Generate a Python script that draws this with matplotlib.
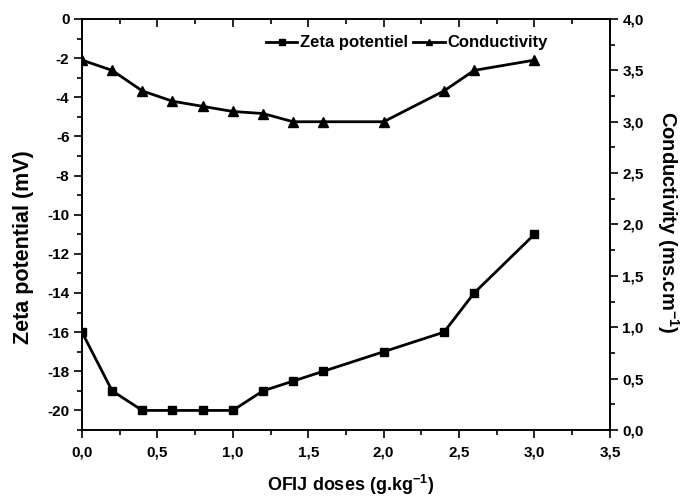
import matplotlib
matplotlib.use("Agg")
import matplotlib.pyplot as plt
from matplotlib.ticker import MultipleLocator, FuncFormatter

plt.rcParams['font.family'] = ['Liberation Sans', 'DejaVu Sans']
plt.rcParams['font.weight'] = 'bold'
plt.rcParams['mathtext.default'] = 'bf'
plt.rcParams['mathtext.fontset'] = 'custom'
plt.rcParams['mathtext.bf'] = 'Liberation Sans:bold'

doses = [0.0, 0.2, 0.4, 0.6, 0.8, 1.0, 1.2, 1.4, 1.6, 2.0, 2.4, 2.6, 3.0]
zeta = [-16, -19, -20, -20, -20, -20, -19, -18.5, -18, -17, -16, -14, -11]
conductivity = [3.6, 3.5, 3.3, 3.2, 3.15, 3.1, 3.08, 3.0, 3.0, 3.0, 3.3, 3.5, 3.6]

fig = plt.figure(figsize=(6.83, 5.0), dpi=100)
ax = fig.add_axes([0.120, 0.14, 0.773, 0.822])
ax2 = ax.twinx()

l1, = ax.plot(doses, zeta, color='black', lw=2, marker='s', markersize=5.5, label='Zeta potentiel')
l2, = ax2.plot(doses, conductivity, color='black', lw=2, marker='^', markersize=6.5, label='Conductivity')

comma = lambda fmt: FuncFormatter(lambda v, p: fmt.format(v).replace('.', ','))

ax.set_xlim(0, 3.5)
ax.set_ylim(-21, 0)
ax2.set_ylim(0, 4)

ax.xaxis.set_major_locator(MultipleLocator(0.5))
ax.xaxis.set_minor_locator(MultipleLocator(0.25))
ax.xaxis.set_major_formatter(comma("{:.1f}"))
ax.yaxis.set_major_locator(MultipleLocator(2))
ax.yaxis.set_minor_locator(MultipleLocator(1))
ax.yaxis.set_major_formatter(FuncFormatter(lambda v, p: "{:d}".format(int(round(v)))))
ax2.yaxis.set_major_locator(MultipleLocator(0.5))
ax2.yaxis.set_minor_locator(MultipleLocator(0.25))
ax2.yaxis.set_major_formatter(comma("{:.1f}"))

for a in (ax, ax2):
    for s in a.spines.values():
        s.set_linewidth(1.2)

ax.tick_params(axis='x', which='both', direction='out', top=True, labelsize=11, width=1.2, pad=5)
ax.tick_params(axis='x', which='major', length=6)
ax.tick_params(axis='x', which='minor', length=3.5)
ax.tick_params(axis='y', which='both', direction='out', labelsize=11, width=1.2, pad=3)
ax.tick_params(axis='y', which='major', length=6)
ax.tick_params(axis='y', which='minor', length=3.5)
ax2.tick_params(axis='y', which='both', direction='out', labelsize=11, width=1.2, pad=3)
ax2.tick_params(axis='y', which='major', length=6)
ax2.tick_params(axis='y', which='minor', length=3.5)
# top ticks point inward
for t in ax.xaxis.get_major_ticks() + ax.xaxis.get_minor_ticks():
    t.tick2line.set_marker(3)

for lbl in ax.get_xticklabels() + ax.get_yticklabels() + ax2.get_yticklabels():
    lbl.set_fontweight('bold')

ax.set_xlabel(r'OFIJ doses (g.kg$^{-1}$)', fontsize=13, fontweight='bold')
ax.set_ylabel('Zeta potential (mV)', fontsize=15.5, fontweight='bold')
ax2.set_ylabel(r'Conductivity (ms.cm$^{-1}$)', fontsize=14.5, fontweight='bold', rotation=270)

ax.xaxis.label.set_va('center')
ax.xaxis.set_label_coords(0.508, -0.134)
ax.yaxis.label.set_va('center')
ax.yaxis.label.set_ha('center')
ax.yaxis.set_label_coords(-0.11, 0.445)
ax2.yaxis.label.set_va('center')
ax2.yaxis.label.set_ha('center')
ax2.yaxis.set_label_coords(1.11, 0.506)

leg = ax.legend(handles=[l1, l2], loc='center', bbox_to_anchor=(0.615, 0.942), ncol=2, frameon=False,
                fontsize=12, handlelength=1.9, handletextpad=0.15, columnspacing=0.3, markerscale=0.75,
                borderpad=0, borderaxespad=0)
for t in leg.get_texts():
    t.set_fontweight('bold')

fig.savefig('out.png', dpi=100)
